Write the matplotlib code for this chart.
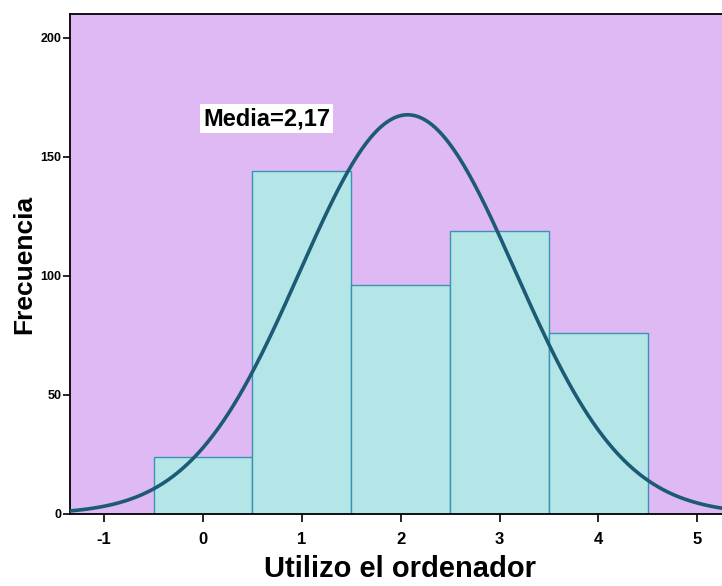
import numpy as np
import matplotlib.pyplot as plt

plt.rcParams['font.family'] = ['Liberation Sans', 'DejaVu Sans']
plt.rcParams['axes.unicode_minus'] = False

# valores del histograma (Utilizo el ordenador)
categorias = [0, 1, 2, 3, 4]
frecuencias = [24, 144, 96, 119, 76]
media_texto = "Media=2,17"

# curva normal
curva_media = 2.07
curva_sd = 1.092
curva_n = sum(frecuencias)

fig = plt.figure(figsize=(7.22, 5.86), dpi=100)
ax = fig.add_axes([0.097, 0.123, 0.903, 0.853])
ax.set_facecolor('#dfb9f3')

ax.bar(categorias, frecuencias, width=1.0, color='#b4e6e8',
       edgecolor='#3a93b3', linewidth=1.0, zorder=2)

x = np.linspace(-1.4, 5.4, 400)
y = curva_n / (curva_sd * np.sqrt(2 * np.pi)) * np.exp(-(x - curva_media) ** 2 / (2 * curva_sd ** 2))
ax.plot(x, y, color='#1d5a75', linewidth=2.6, zorder=3)

ax.set_xlim(-1.345, 5.25)
ax.set_ylim(0, 210)
ax.set_xticks([-1, 0, 1, 2, 3, 4, 5])
ax.set_yticks([0, 50, 100, 150, 200])

for lab in ax.get_xticklabels():
    lab.set_fontweight('bold')
    lab.set_fontsize(12)
for lab in ax.get_yticklabels():
    lab.set_fontweight('bold')
    lab.set_fontsize(9)
ax.tick_params(axis='x', length=6, width=1.2, pad=7)
ax.tick_params(axis='y', length=5, width=1.2, pad=1)

for s in ['left', 'bottom', 'top']:
    ax.spines[s].set_linewidth(1.3)
ax.spines['right'].set_visible(False)

ax.set_xlabel('Utilizo el ordenador', fontsize=21, fontweight='bold', va='baseline')
ax.xaxis.set_label_coords(0.554, 0.016, transform=fig.transFigure)
ax.set_ylabel('Frecuencia', fontsize=19, fontweight='bold', va='center')
ax.yaxis.set_label_coords(0.033, 0.549, transform=fig.transFigure)

ax.text(0.0, 166, media_texto, fontsize=17, fontweight='bold', va='center', ha='left',
        bbox=dict(facecolor='white', edgecolor='none', pad=2), zorder=4)

fig.savefig('out.png', dpi=100)
